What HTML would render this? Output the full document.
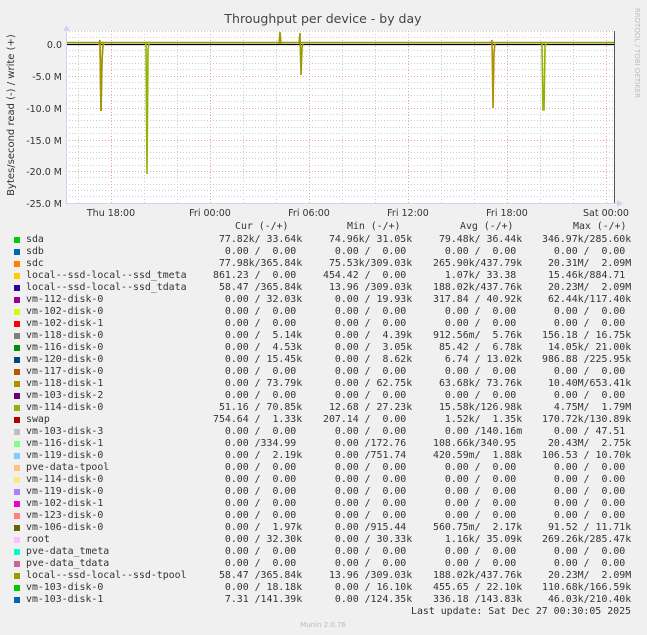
<!DOCTYPE html>
<html><head><meta charset="utf-8"><style>
body{margin:0;background:#f0f0f0;width:647px;height:635px;overflow:hidden;position:relative;font-family:"DejaVu Sans Mono","Liberation Mono",monospace;}
.t{position:absolute;white-space:pre;font-size:9.9px;line-height:12px;color:#333;}
.sq{position:absolute;width:6px;height:6px;left:14px;}
</style></head><body>
<svg width="647" height="635" style="position:absolute;left:0;top:0" font-family="DejaVu Sans, Liberation Sans, sans-serif">
<rect x="66" y="31" width="548" height="172" fill="#fff"/>
<g stroke="#ccc" stroke-width="1" stroke-dasharray="1,2">
<line x1="66" x2="614" y1="31.5" y2="31.5"/><line x1="66" x2="614" y1="37.5" y2="37.5"/>
<line x1="66" x2="614" y1="50.5" y2="50.5"/><line x1="66" x2="614" y1="56.5" y2="56.5"/><line x1="66" x2="614" y1="63.5" y2="63.5"/><line x1="66" x2="614" y1="69.5" y2="69.5"/>
<line x1="66" x2="614" y1="82.5" y2="82.5"/><line x1="66" x2="614" y1="88.5" y2="88.5"/><line x1="66" x2="614" y1="95.5" y2="95.5"/><line x1="66" x2="614" y1="101.5" y2="101.5"/>
<line x1="66" x2="614" y1="114.5" y2="114.5"/><line x1="66" x2="614" y1="120.5" y2="120.5"/><line x1="66" x2="614" y1="127.5" y2="127.5"/><line x1="66" x2="614" y1="133.5" y2="133.5"/>
<line x1="66" x2="614" y1="146.5" y2="146.5"/><line x1="66" x2="614" y1="152.5" y2="152.5"/><line x1="66" x2="614" y1="158.5" y2="158.5"/><line x1="66" x2="614" y1="165.5" y2="165.5"/>
<line x1="66" x2="614" y1="177.5" y2="177.5"/><line x1="66" x2="614" y1="184.5" y2="184.5"/><line x1="66" x2="614" y1="190.5" y2="190.5"/><line x1="66" x2="614" y1="196.5" y2="196.5"/>
<line y1="31" y2="203" x1="78.5" x2="78.5"/><line y1="31" y2="203" x1="144.5" x2="144.5"/><line y1="31" y2="203" x1="177.5" x2="177.5"/><line y1="31" y2="203" x1="243.5" x2="243.5"/><line y1="31" y2="203" x1="276.5" x2="276.5"/><line y1="31" y2="203" x1="342.5" x2="342.5"/><line y1="31" y2="203" x1="375.5" x2="375.5"/><line y1="31" y2="203" x1="441.5" x2="441.5"/><line y1="31" y2="203" x1="474.5" x2="474.5"/><line y1="31" y2="203" x1="540.5" x2="540.5"/><line y1="31" y2="203" x1="573.5" x2="573.5"/>
</g>
<g stroke="#e8a0a0" stroke-width="1" stroke-dasharray="1,2">
<line x1="66" x2="614" y1="76.5" y2="76.5"/><line x1="66" x2="614" y1="108.5" y2="108.5"/><line x1="66" x2="614" y1="140.5" y2="140.5"/><line x1="66" x2="614" y1="171.5" y2="171.5"/><line x1="66" x2="614" y1="203.5" y2="203.5"/>
<line y1="31" y2="203" x1="111.5" x2="111.5"/><line y1="31" y2="203" x1="210.5" x2="210.5"/><line y1="31" y2="203" x1="309.5" x2="309.5"/><line y1="31" y2="203" x1="408.5" x2="408.5"/><line y1="31" y2="203" x1="507.5" x2="507.5"/><line y1="31" y2="203" x1="606.5" x2="606.5"/>
</g>
<line x1="66" x2="614" y1="42.5" y2="42.5" stroke="#999900" stroke-width="1.5"/>
<line x1="66" x2="614" y1="44.5" y2="44.5" stroke="#000" stroke-width="1.2"/>
<g fill="none" stroke-width="1.6">
<path d="M98 44 L100 44 L101 111 L102 60 L103 46 L104 44" stroke="#FF8000"/>
<path d="M99 44 L100 40 L101 111 L102 60 L103 44 L104 44" stroke="#999900"/>
<path d="M145 44 L146 44 L147 174 L148 50 L149 44" stroke="#8FB300"/>
<path d="M279 44 L280 32 L281 44" stroke="#999900"/>
<path d="M299 44 L300 33 L301 75 L302 48 L303 44" stroke="#999900"/>
<path d="M491 44 L492 40 L493 108 L494 52 L495 44" stroke="#B38F00"/>
<path d="M541 44 L542 44 L543 110 L544 110 L545 46 L546 44" stroke="#8FB300"/>
</g>
<line x1="614.5" x2="614.5" y1="31" y2="203" stroke="#555"/>
<line x1="66.5" x2="66.5" y1="28" y2="203" stroke="#ccd4f0"/>
<line x1="66" x2="618" y1="203.5" y2="203.5" stroke="#ccd4f0"/>
<path d="M63 31 L66.5 25 L70 31Z" fill="#ccd4f0"/>
<path d="M617 200 L623 203.5 L617 207Z" fill="#ccd4f0"/>
<text x="323" y="23" text-anchor="middle" font-size="12.5" fill="#444">Throughput per device - by day</text>
<g font-size="9.5" fill="#333" text-anchor="end">
<text x="62" y="48">0.0</text><text x="62" y="80">-5.0 M</text><text x="62" y="112">-10.0 M</text><text x="62" y="144">-15.0 M</text><text x="62" y="175">-20.0 M</text><text x="62" y="207">-25.0 M</text>
</g>
<g font-size="9.5" fill="#333" text-anchor="middle">
<text x="111" y="216">Thu 18:00</text><text x="210" y="216">Fri 00:00</text><text x="309" y="216">Fri 06:00</text><text x="408" y="216">Fri 12:00</text><text x="507" y="216">Fri 18:00</text><text x="606" y="216">Sat 00:00</text>
</g>
<text transform="translate(14,115) rotate(-90)" text-anchor="middle" font-size="10" fill="#333">Bytes/second read (-) / write (+)</text>
<text transform="translate(635,53) rotate(90)" text-anchor="middle" font-size="7" fill="#bbb">RRDTOOL / TOBI OETIKER</text>
<text x="323" y="627" text-anchor="middle" font-size="7" fill="#bbb">Munin 2.0.76</text>
</svg>
<div class="t" style="left:235px;top:221px">Cur (-/+)</div>
<div class="t" style="left:347px;top:221px">Min (-/+)</div>
<div class="t" style="left:460px;top:221px">Avg (-/+)</div>
<div class="t" style="left:573px;top:221px">Max (-/+)</div>

<div class="sq" style="top:237px;background:#00CC00"></div><div class="t" style="left:26px;top:234px">sda</div><div class="t" style="left:213px;top:234px"> 77.82k/ 33.64k</div><div class="t" style="left:323px;top:234px"> 74.96k/ 31.05k</div><div class="t" style="left:433px;top:234px"> 79.48k/ 36.44k</div><div class="t" style="left:542px;top:234px">346.97k/285.60k</div>
<div class="sq" style="top:249px;background:#0066B3"></div><div class="t" style="left:26px;top:246px">sdb</div><div class="t" style="left:213px;top:246px">  0.00 /  0.00 </div><div class="t" style="left:323px;top:246px">  0.00 /  0.00 </div><div class="t" style="left:433px;top:246px">  0.00 /  0.00 </div><div class="t" style="left:542px;top:246px">  0.00 /  0.00 </div>
<div class="sq" style="top:261px;background:#FF8000"></div><div class="t" style="left:26px;top:258px">sdc</div><div class="t" style="left:213px;top:258px"> 77.98k/365.84k</div><div class="t" style="left:323px;top:258px"> 75.53k/309.03k</div><div class="t" style="left:433px;top:258px">265.90k/437.79k</div><div class="t" style="left:542px;top:258px"> 20.31M/  2.09M</div>
<div class="sq" style="top:273px;background:#FFCC00"></div><div class="t" style="left:26px;top:270px">local--ssd-local--ssd_tmeta</div><div class="t" style="left:213px;top:270px">861.23 /  0.00 </div><div class="t" style="left:323px;top:270px">454.42 /  0.00 </div><div class="t" style="left:433px;top:270px">  1.07k/ 33.38 </div><div class="t" style="left:542px;top:270px"> 15.46k/884.71 </div>
<div class="sq" style="top:285px;background:#330099"></div><div class="t" style="left:26px;top:282px">local--ssd-local--ssd_tdata</div><div class="t" style="left:213px;top:282px"> 58.47 /365.84k</div><div class="t" style="left:323px;top:282px"> 13.96 /309.03k</div><div class="t" style="left:433px;top:282px">188.02k/437.76k</div><div class="t" style="left:542px;top:282px"> 20.23M/  2.09M</div>
<div class="sq" style="top:297px;background:#990099"></div><div class="t" style="left:26px;top:294px">vm-112-disk-0</div><div class="t" style="left:213px;top:294px">  0.00 / 32.03k</div><div class="t" style="left:323px;top:294px">  0.00 / 19.93k</div><div class="t" style="left:433px;top:294px">317.84 / 40.92k</div><div class="t" style="left:542px;top:294px"> 62.44k/117.40k</div>
<div class="sq" style="top:309px;background:#CCFF00"></div><div class="t" style="left:26px;top:306px">vm-102-disk-0</div><div class="t" style="left:213px;top:306px">  0.00 /  0.00 </div><div class="t" style="left:323px;top:306px">  0.00 /  0.00 </div><div class="t" style="left:433px;top:306px">  0.00 /  0.00 </div><div class="t" style="left:542px;top:306px">  0.00 /  0.00 </div>
<div class="sq" style="top:321px;background:#FF0000"></div><div class="t" style="left:26px;top:318px">vm-102-disk-1</div><div class="t" style="left:213px;top:318px">  0.00 /  0.00 </div><div class="t" style="left:323px;top:318px">  0.00 /  0.00 </div><div class="t" style="left:433px;top:318px">  0.00 /  0.00 </div><div class="t" style="left:542px;top:318px">  0.00 /  0.00 </div>
<div class="sq" style="top:333px;background:#808080"></div><div class="t" style="left:26px;top:330px">vm-118-disk-0</div><div class="t" style="left:213px;top:330px">  0.00 /  5.14k</div><div class="t" style="left:323px;top:330px">  0.00 /  4.39k</div><div class="t" style="left:433px;top:330px">912.56m/  5.76k</div><div class="t" style="left:542px;top:330px">156.18 / 16.75k</div>
<div class="sq" style="top:345px;background:#008F00"></div><div class="t" style="left:26px;top:342px">vm-116-disk-0</div><div class="t" style="left:213px;top:342px">  0.00 /  4.53k</div><div class="t" style="left:323px;top:342px">  0.00 /  3.05k</div><div class="t" style="left:433px;top:342px"> 85.42 /  6.78k</div><div class="t" style="left:542px;top:342px"> 14.05k/ 21.00k</div>
<div class="sq" style="top:357px;background:#00487D"></div><div class="t" style="left:26px;top:354px">vm-120-disk-0</div><div class="t" style="left:213px;top:354px">  0.00 / 15.45k</div><div class="t" style="left:323px;top:354px">  0.00 /  8.62k</div><div class="t" style="left:433px;top:354px">  6.74 / 13.02k</div><div class="t" style="left:542px;top:354px">986.88 /225.95k</div>
<div class="sq" style="top:369px;background:#B35A00"></div><div class="t" style="left:26px;top:366px">vm-117-disk-0</div><div class="t" style="left:213px;top:366px">  0.00 /  0.00 </div><div class="t" style="left:323px;top:366px">  0.00 /  0.00 </div><div class="t" style="left:433px;top:366px">  0.00 /  0.00 </div><div class="t" style="left:542px;top:366px">  0.00 /  0.00 </div>
<div class="sq" style="top:381px;background:#B38F00"></div><div class="t" style="left:26px;top:378px">vm-118-disk-1</div><div class="t" style="left:213px;top:378px">  0.00 / 73.79k</div><div class="t" style="left:323px;top:378px">  0.00 / 62.75k</div><div class="t" style="left:433px;top:378px"> 63.68k/ 73.76k</div><div class="t" style="left:542px;top:378px"> 10.40M/653.41k</div>
<div class="sq" style="top:393px;background:#6B006B"></div><div class="t" style="left:26px;top:390px">vm-103-disk-2</div><div class="t" style="left:213px;top:390px">  0.00 /  0.00 </div><div class="t" style="left:323px;top:390px">  0.00 /  0.00 </div><div class="t" style="left:433px;top:390px">  0.00 /  0.00 </div><div class="t" style="left:542px;top:390px">  0.00 /  0.00 </div>
<div class="sq" style="top:405px;background:#8FB300"></div><div class="t" style="left:26px;top:402px">vm-114-disk-0</div><div class="t" style="left:213px;top:402px"> 51.16 / 70.85k</div><div class="t" style="left:323px;top:402px"> 12.68 / 27.23k</div><div class="t" style="left:433px;top:402px"> 15.58k/126.98k</div><div class="t" style="left:542px;top:402px">  4.75M/  1.79M</div>
<div class="sq" style="top:417px;background:#B30000"></div><div class="t" style="left:26px;top:414px">swap</div><div class="t" style="left:213px;top:414px">754.64 /  1.33k</div><div class="t" style="left:323px;top:414px">207.14 /  0.00 </div><div class="t" style="left:433px;top:414px">  1.52k/  1.35k</div><div class="t" style="left:542px;top:414px">170.72k/130.89k</div>
<div class="sq" style="top:429px;background:#BEBEBE"></div><div class="t" style="left:26px;top:426px">vm-103-disk-3</div><div class="t" style="left:213px;top:426px">  0.00 /  0.00 </div><div class="t" style="left:323px;top:426px">  0.00 /  0.00 </div><div class="t" style="left:433px;top:426px">  0.00 /140.16m</div><div class="t" style="left:542px;top:426px">  0.00 / 47.51 </div>
<div class="sq" style="top:441px;background:#80FF80"></div><div class="t" style="left:26px;top:438px">vm-116-disk-1</div><div class="t" style="left:213px;top:438px">  0.00 /334.99 </div><div class="t" style="left:323px;top:438px">  0.00 /172.76 </div><div class="t" style="left:433px;top:438px">108.66k/340.95 </div><div class="t" style="left:542px;top:438px"> 20.43M/  2.75k</div>
<div class="sq" style="top:453px;background:#80C9FF"></div><div class="t" style="left:26px;top:450px">vm-119-disk-0</div><div class="t" style="left:213px;top:450px">  0.00 /  2.19k</div><div class="t" style="left:323px;top:450px">  0.00 /751.74 </div><div class="t" style="left:433px;top:450px">420.59m/  1.88k</div><div class="t" style="left:542px;top:450px">106.53 / 10.70k</div>
<div class="sq" style="top:465px;background:#FFC080"></div><div class="t" style="left:26px;top:462px">pve-data-tpool</div><div class="t" style="left:213px;top:462px">  0.00 /  0.00 </div><div class="t" style="left:323px;top:462px">  0.00 /  0.00 </div><div class="t" style="left:433px;top:462px">  0.00 /  0.00 </div><div class="t" style="left:542px;top:462px">  0.00 /  0.00 </div>
<div class="sq" style="top:477px;background:#FFE680"></div><div class="t" style="left:26px;top:474px">vm-114-disk-0</div><div class="t" style="left:213px;top:474px">  0.00 /  0.00 </div><div class="t" style="left:323px;top:474px">  0.00 /  0.00 </div><div class="t" style="left:433px;top:474px">  0.00 /  0.00 </div><div class="t" style="left:542px;top:474px">  0.00 /  0.00 </div>
<div class="sq" style="top:489px;background:#AA80FF"></div><div class="t" style="left:26px;top:486px">vm-119-disk-0</div><div class="t" style="left:213px;top:486px">  0.00 /  0.00 </div><div class="t" style="left:323px;top:486px">  0.00 /  0.00 </div><div class="t" style="left:433px;top:486px">  0.00 /  0.00 </div><div class="t" style="left:542px;top:486px">  0.00 /  0.00 </div>
<div class="sq" style="top:501px;background:#EE00CC"></div><div class="t" style="left:26px;top:498px">vm-102-disk-1</div><div class="t" style="left:213px;top:498px">  0.00 /  0.00 </div><div class="t" style="left:323px;top:498px">  0.00 /  0.00 </div><div class="t" style="left:433px;top:498px">  0.00 /  0.00 </div><div class="t" style="left:542px;top:498px">  0.00 /  0.00 </div>
<div class="sq" style="top:513px;background:#FF8080"></div><div class="t" style="left:26px;top:510px">vm-123-disk-0</div><div class="t" style="left:213px;top:510px">  0.00 /  0.00 </div><div class="t" style="left:323px;top:510px">  0.00 /  0.00 </div><div class="t" style="left:433px;top:510px">  0.00 /  0.00 </div><div class="t" style="left:542px;top:510px">  0.00 /  0.00 </div>
<div class="sq" style="top:525px;background:#666600"></div><div class="t" style="left:26px;top:522px">vm-106-disk-0</div><div class="t" style="left:213px;top:522px">  0.00 /  1.97k</div><div class="t" style="left:323px;top:522px">  0.00 /915.44 </div><div class="t" style="left:433px;top:522px">560.75m/  2.17k</div><div class="t" style="left:542px;top:522px"> 91.52 / 11.71k</div>
<div class="sq" style="top:537px;background:#FFBFFF"></div><div class="t" style="left:26px;top:534px">root</div><div class="t" style="left:213px;top:534px">  0.00 / 32.30k</div><div class="t" style="left:323px;top:534px">  0.00 / 30.33k</div><div class="t" style="left:433px;top:534px">  1.16k/ 35.09k</div><div class="t" style="left:542px;top:534px">269.26k/285.47k</div>
<div class="sq" style="top:549px;background:#00FFCC"></div><div class="t" style="left:26px;top:546px">pve-data_tmeta</div><div class="t" style="left:213px;top:546px">  0.00 /  0.00 </div><div class="t" style="left:323px;top:546px">  0.00 /  0.00 </div><div class="t" style="left:433px;top:546px">  0.00 /  0.00 </div><div class="t" style="left:542px;top:546px">  0.00 /  0.00 </div>
<div class="sq" style="top:561px;background:#CC6699"></div><div class="t" style="left:26px;top:558px">pve-data_tdata</div><div class="t" style="left:213px;top:558px">  0.00 /  0.00 </div><div class="t" style="left:323px;top:558px">  0.00 /  0.00 </div><div class="t" style="left:433px;top:558px">  0.00 /  0.00 </div><div class="t" style="left:542px;top:558px">  0.00 /  0.00 </div>
<div class="sq" style="top:573px;background:#999900"></div><div class="t" style="left:26px;top:570px">local--ssd-local--ssd-tpool</div><div class="t" style="left:213px;top:570px"> 58.47 /365.84k</div><div class="t" style="left:323px;top:570px"> 13.96 /309.03k</div><div class="t" style="left:433px;top:570px">188.02k/437.76k</div><div class="t" style="left:542px;top:570px"> 20.23M/  2.09M</div>
<div class="sq" style="top:585px;background:#00CC00"></div><div class="t" style="left:26px;top:582px">vm-103-disk-0</div><div class="t" style="left:213px;top:582px">  0.00 / 18.18k</div><div class="t" style="left:323px;top:582px">  0.00 / 16.10k</div><div class="t" style="left:433px;top:582px">455.65 / 22.10k</div><div class="t" style="left:542px;top:582px">110.68k/166.59k</div>
<div class="sq" style="top:597px;background:#0066B3"></div><div class="t" style="left:26px;top:594px">vm-103-disk-1</div><div class="t" style="left:213px;top:594px">  7.31 /141.39k</div><div class="t" style="left:323px;top:594px">  0.00 /124.35k</div><div class="t" style="left:433px;top:594px">336.18 /143.83k</div><div class="t" style="left:542px;top:594px"> 46.03k/210.40k</div>
<div class="t" style="left:411px;top:606px">Last update: Sat Dec 27 00:30:05 2025</div>
</body></html>
